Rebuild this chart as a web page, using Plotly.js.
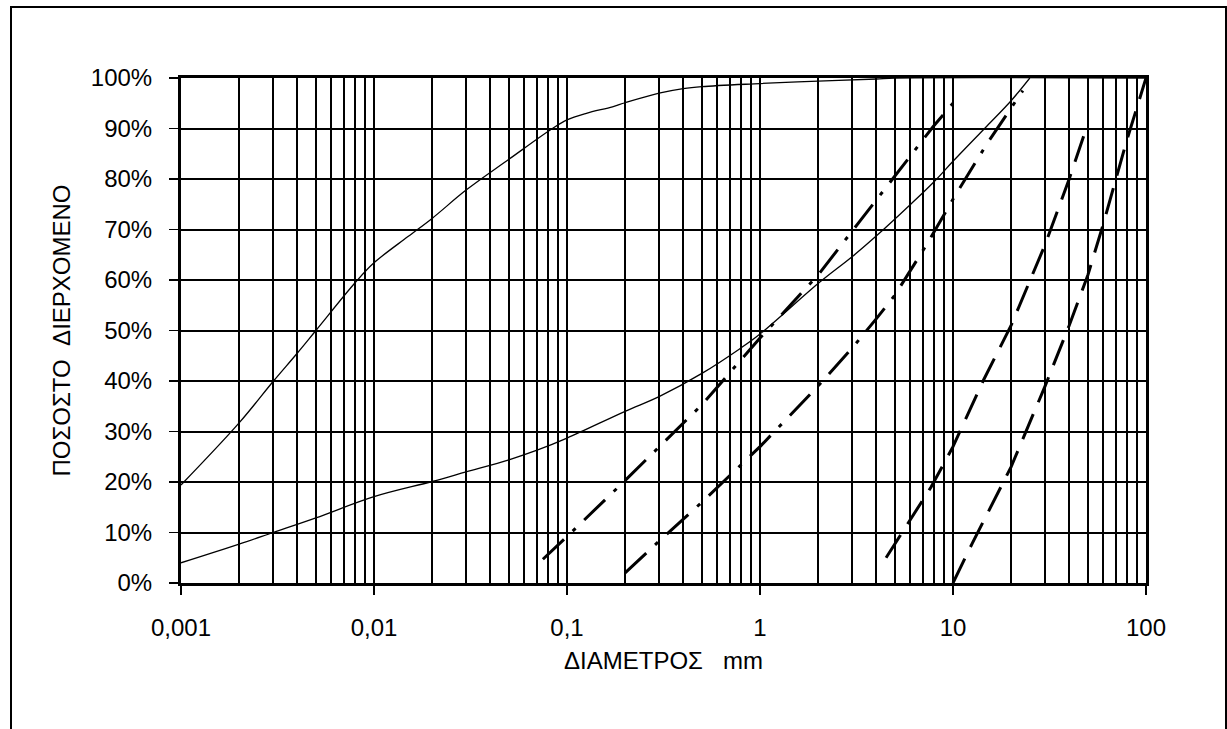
<!DOCTYPE html>
<html>
<head>
<meta charset="utf-8">
<script src="https://cdn.plot.ly/plotly-3.0.1.min.js"></script>
<style>
  html, body { margin: 0; padding: 0; background: #fff; overflow: hidden; }
  #wrap { position: relative; width: 1227px; height: 729px; }
  #chart { position: absolute; left: 0; top: 0; width: 1227px; height: 729px; }
  #frame { position: absolute; left: 10px; top: 6px; width: 1213px; height: 760px;
           border: 2px solid #000; pointer-events: none; }
</style>
</head>
<body>
<div id="wrap">
  <div id="chart"></div>
  <div id="frame"></div>
</div>
<script>
// Grain size distribution curves (diameter in mm, percent passing)
const sampleFine_d    = [0.001, 0.002, 0.003, 0.004, 0.005, 0.008, 0.01, 0.015, 0.02, 0.03, 0.05, 0.084, 0.1, 0.126, 0.172, 0.2, 0.3, 0.4, 0.5, 1, 2, 4, 5, 100];
const sampleFine_pass = [19.4, 31.7, 39.9, 45.5, 50, 59.5, 63.4, 68.6, 72.2, 77.8, 83.9, 90, 91.7, 93, 94.3, 95.1, 97, 97.9, 98.3, 98.9, 99.4, 99.8, 100, 100];

const sampleCoarse_d    = [0.001, 0.002, 0.003, 0.005, 0.01, 0.02, 0.03, 0.05, 0.07, 0.1, 0.2, 0.3, 0.5, 0.78, 1, 2, 3, 4, 6, 8, 10, 15, 20, 25];
const sampleCoarse_pass = [4, 7.7, 10, 12.9, 17.1, 20.1, 22, 24.4, 26.3, 28.7, 34, 36.9, 41.5, 46.3, 49.3, 59.3, 64.6, 68.7, 74.9, 79.5, 83.5, 90.5, 95.5, 100];

// Dash-dot grading limits
const limitC_d    = [0.075, 0.1, 0.2, 0.5, 1, 2, 3.3, 5, 7.9, 10];
const limitC_pass = [4.7, 9.2, 20.3, 35.3, 48.5, 61, 71.7, 80.5, 90.4, 95];

const limitD_d    = [0.2, 0.3, 0.5, 1, 2, 3, 4, 5, 7.3, 10, 15, 20, 23];
const limitD_pass = [2, 8.3, 16, 27, 39, 46.5, 52.3, 57, 67, 76, 87, 94, 97.5];

// Dashed grading limits
const limitE_d    = [4.5, 7.7, 10, 14.4, 20, 25, 30, 40, 48];
const limitE_pass = [5, 19, 27, 40.2, 51, 60, 67, 80, 89];

const limitF_d    = [10, 12.6, 20, 30, 40, 50, 60, 70, 80, 90, 100];
const limitF_pass = [0, 7.9, 23, 39, 51, 61, 71, 80, 88, 94.3, 100];

// Axis ticks
const xTickVals = [0.001, 0.01, 0.1, 1, 10, 100];
const xTickText = ['0,001', '0,01', '0,1', '1', '10', '100'];
const yTickVals = [0, 10, 20, 30, 40, 50, 60, 70, 80, 90, 100];
const yTickText = yTickVals.map(v => v + '%');

// Minor vertical grid lines at 2..9 of each decade
const minorVals = [];
for (let e = -3; e < 2; e++) {
  for (let k = 2; k <= 9; k++) minorVals.push(k * Math.pow(10, e));
}

const thin = { color: '#000', width: 1.3 };
const dashDot = { color: '#000', width: 3, dash: '29px,12px,4px,12px' };
const dashed = { color: '#000', width: 3, dash: '27px,13px' };

const traces = [
  { x: sampleFine_d, y: sampleFine_pass, mode: 'lines', line: Object.assign({ shape: 'spline', smoothing: 1 }, thin) },
  { x: sampleCoarse_d, y: sampleCoarse_pass, mode: 'lines', line: Object.assign({ shape: 'spline', smoothing: 1 }, thin) },
  { x: limitC_d, y: limitC_pass, mode: 'lines', line: dashDot },
  { x: limitD_d, y: limitD_pass, mode: 'lines', line: dashDot },
  { x: limitE_d, y: limitE_pass, mode: 'lines', line: dashed },
  { x: limitF_d, y: limitF_pass, mode: 'lines', line: dashed }
];

const layout = {
  width: 1227,
  height: 729,
  margin: { l: 181, r: 81, t: 78, b: 146 },
  paper_bgcolor: '#fff',
  plot_bgcolor: '#fff',
  showlegend: false,
  font: { family: 'Liberation Sans, Arial, sans-serif', size: 24, color: '#000' },
  xaxis: {
    type: 'log',
    range: [-3, 2],
    tickmode: 'array',
    tickvals: xTickVals,
    ticktext: xTickText,
    ticks: 'outside',
    ticklen: 9,
    tickwidth: 1.5,
    tickcolor: '#000',
    ticklabelstandoff: 12,
    showgrid: true,
    gridcolor: '#000',
    gridwidth: 2,
    showline: true,
    linecolor: '#000',
    linewidth: 3,
    mirror: true,
    zeroline: false,
    minor: { tickmode: 'array', tickvals: minorVals, showgrid: true, gridcolor: '#000', gridwidth: 2, ticks: '' },
    title: { text: 'ΔΙΑΜΕΤΡΟΣ\u00a0\u00a0\u00a0mm', standoff: 13, font: { size: 24 } },
    fixedrange: true
  },
  yaxis: {
    range: [0, 100],
    tickmode: 'array',
    tickvals: yTickVals,
    ticktext: yTickText,
    ticks: 'outside',
    ticklen: 9,
    tickwidth: 1.5,
    tickcolor: '#000',
    ticklabelstandoff: 12,
    showgrid: true,
    gridcolor: '#000',
    gridwidth: 2,
    showline: true,
    linecolor: '#000',
    linewidth: 3,
    mirror: true,
    zeroline: false,
    title: { text: 'ΠΟΣΟΣΤΟ\u00a0\u00a0ΔΙΕΡΧΟΜΕΝΟ', standoff: 14, font: { size: 24 } },
    fixedrange: true
  }
};

Plotly.newPlot('chart', traces, layout, { staticPlot: true, displayModeBar: false });
</script>
</body>
</html>
